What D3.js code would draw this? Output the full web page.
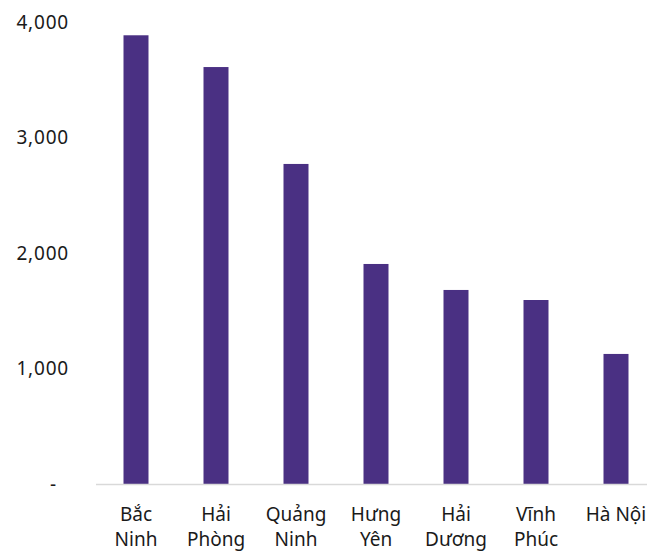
<!DOCTYPE html>
<html>
<head>
<meta charset="utf-8">
<script src="https://cdn.jsdelivr.net/npm/d3@7"></script>
<style>
  body { margin: 0; background: #fff; }
  svg text { font-family: "Noto Sans", sans-serif; fill: #1a1a1a; }
</style>
</head>
<body>
<script>
// Data
const categories = ["Bắc Ninh", "Hải Phòng", "Quảng Ninh", "Hưng Yên", "Hải Dương", "Vĩnh Phúc", "Hà Nội"];
const labelLines = [["Bắc", "Ninh"], ["Hải", "Phòng"], ["Quảng", "Ninh"], ["Hưng", "Yên"], ["Hải", "Dương"], ["Vĩnh", "Phúc"], ["Hà Nội"]];
const values = [3885, 3610, 2771, 1905, 1680, 1593, 1126];
const yTicks = [0, 1000, 2000, 3000, 4000];

const W = 647, H = 551;
const margin = { top: 22, right: -9, bottom: 67, left: 96 }; // last band runs past the window edge
const plotW = W - margin.left - margin.right;
const plotH = H - margin.top - margin.bottom;

const svg = d3.select("body")
    .append("svg")
    .attr("width", W)
    .attr("height", H);

const g = svg.append("g")
    .attr("transform", `translate(${margin.left},${margin.top})`);

const x = d3.scaleBand()
    .domain(categories)
    .range([0, plotW])
    .paddingInner(0.6875)
    .paddingOuter(0.34375);

const y = d3.scaleLinear()
    .domain([0, 4000])
    .range([plotH, 0]);

// Y axis labels (no line, no ticks)
const yAxis = g.append("g")
    .call(d3.axisLeft(y).tickValues(yTicks).tickSize(0).tickPadding(27)
        .tickFormat(d => d === 0 ? "-" : d3.format(",")(d)));
yAxis.select(".domain").remove();
yAxis.selectAll("text")
    .style("font-size", "19px")
    .style("letter-spacing", "0.8px")
    .attr("fill", "#1a1a1a")
    .attr("dx", d => d === 0 ? -12 : 0);

// Bars
g.selectAll(".bar")
    .data(values)
    .enter()
    .append("rect")
    .attr("class", "bar")
    .attr("x", (d, i) => x(categories[i]))
    .attr("y", d => y(d))
    .attr("width", x.bandwidth())
    .attr("height", d => plotH - y(d))
    .attr("fill", "#4a3083");

// Baseline
g.append("line")
    .attr("x1", 0)
    .attr("x2", W - margin.left)
    .attr("y1", plotH + 0.5)
    .attr("y2", plotH + 0.5)
    .attr("stroke", "#d9d9d9")
    .attr("stroke-width", 1.5);

// Category labels, wrapped
const lab = g.selectAll(".cat")
    .data(categories)
    .enter()
    .append("text")
    .attr("class", "cat")
    .attr("text-anchor", "middle")
    .style("font-size", "19px")
    .attr("transform", d => `translate(${x(d) + x.bandwidth() / 2},${plotH + 37})`);

lab.selectAll("tspan")
    .data((d, i) => labelLines[i])
    .enter()
    .append("tspan")
    .attr("x", 0)
    .attr("y", (d, i) => i * 25)
    .text(d => d);
</script>
</body>
</html>
